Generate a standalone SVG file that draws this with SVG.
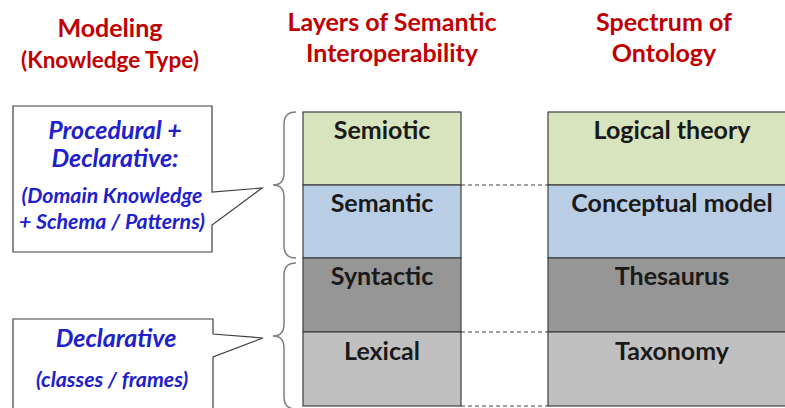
<svg xmlns="http://www.w3.org/2000/svg" width="785" height="408" viewBox="0 0 785 408">
  <style>
    text { font-family: Lato, "Open Sans", sans-serif; font-weight: bold; text-anchor: middle; }
    .title { fill: #C00000; font-size: 25px; }
    .sub { fill: #C00000; font-size: 22.5px; }
    .layer { fill: #1a1a1a; font-size: 25px; }
    .cell { stroke: #404040; stroke-width: 1.2; }
    .semiotic { fill: #D7E4BD; }
    .semantic { fill: #B9CDE5; }
    .syntactic { fill: #969696; }
    .lexical { fill: #C0C0C0; }
    .callout { fill: #FFFFFF; stroke: #404040; stroke-width: 1.2; }
    .kbig { fill: #2020CC; font-size: 25px; font-style: italic; }
    .ksmall { fill: #2020CC; font-size: 21.3px; font-style: italic; }
    .brace { fill: none; stroke: #808080; stroke-width: 1.5; }
    .dash { stroke: #404040; stroke-width: 1; stroke-dasharray: 4 3; }
  </style>

  <!-- column headings -->
  <g id="heading-modeling">
    <text class="title" x="110" y="37">Modeling</text>
    <text class="sub" x="110" y="68">(Knowledge Type)</text>
  </g>
  <g id="heading-layers">
    <text class="title" x="392" y="31">Layers of Semantic</text>
    <text class="title" x="392" y="62">Interoperability</text>
  </g>
  <g id="heading-spectrum">
    <text class="title" x="664" y="31">Spectrum of</text>
    <text class="title" x="664" y="62">Ontology</text>
  </g>

  <!-- knowledge type callouts -->
  <g id="callout-procedural">
    <path class="callout" d="M13,106 H212 V192 L262,188 L212,225 V252 H13 Z"/>
    <text class="kbig" x="115" y="139">Procedural +</text>
    <text class="kbig" x="115" y="167">Declarative:</text>
    <text class="ksmall" x="112" y="203">(Domain Knowledge</text>
    <text class="ksmall" x="112" y="229">+ Schema / Patterns)</text>
  </g>
  <g id="callout-declarative">
    <path class="callout" d="M13,319 H213 V334 L263,338 L213,357 V420 H13 Z"/>
    <text class="kbig" x="116" y="347">Declarative</text>
    <text class="ksmall" x="112" y="387">(classes / frames)</text>
  </g>

  <!-- interoperability layers -->
  <g id="layer-semiotic">
    <rect class="cell semiotic" x="303" y="112" width="158" height="73"/>
    <text class="layer" x="382" y="139">Semiotic</text>
  </g>
  <g id="layer-semantic">
    <rect class="cell semantic" x="303" y="185" width="158" height="73"/>
    <text class="layer" x="382" y="212">Semantic</text>
  </g>
  <g id="layer-syntactic">
    <rect class="cell syntactic" x="303" y="258" width="158" height="74"/>
    <text class="layer" x="382" y="285">Syntactic</text>
  </g>
  <g id="layer-lexical">
    <rect class="cell lexical" x="303" y="332" width="158" height="74"/>
    <text class="layer" x="382" y="360">Lexical</text>
  </g>

  <!-- ontology spectrum -->
  <g id="onto-logical">
    <rect class="cell semiotic" x="548" y="112" width="250" height="73"/>
    <text class="layer" x="672" y="139">Logical theory</text>
  </g>
  <g id="onto-conceptual">
    <rect class="cell semantic" x="548" y="185" width="250" height="73"/>
    <text class="layer" x="672" y="212">Conceptual model</text>
  </g>
  <g id="onto-thesaurus">
    <rect class="cell syntactic" x="548" y="258" width="250" height="74"/>
    <text class="layer" x="672" y="285">Thesaurus</text>
  </g>
  <g id="onto-taxonomy">
    <rect class="cell lexical" x="548" y="332" width="250" height="74"/>
    <text class="layer" x="672" y="360">Taxonomy</text>
  </g>

  <!-- connectors: braces and dashed alignment lines -->
  <g id="connectors">
    <path class="brace" d="M296,112 Q284,112 284,124 V173 Q284,185 273,185 Q284,185 284,197 V246 Q284,258 296,258"/>
    <path class="brace" d="M296,263 Q284,263 284,275 V324 Q284,336 273,336 Q284,336 284,348 V397 Q284,409 296,409"/>
    <line class="dash" x1="461" y1="185" x2="548" y2="185"/>
    <line class="dash" x1="461" y1="332" x2="548" y2="332"/>
    <line class="dash" x1="461" y1="406" x2="548" y2="406"/>
  </g>
</svg>
